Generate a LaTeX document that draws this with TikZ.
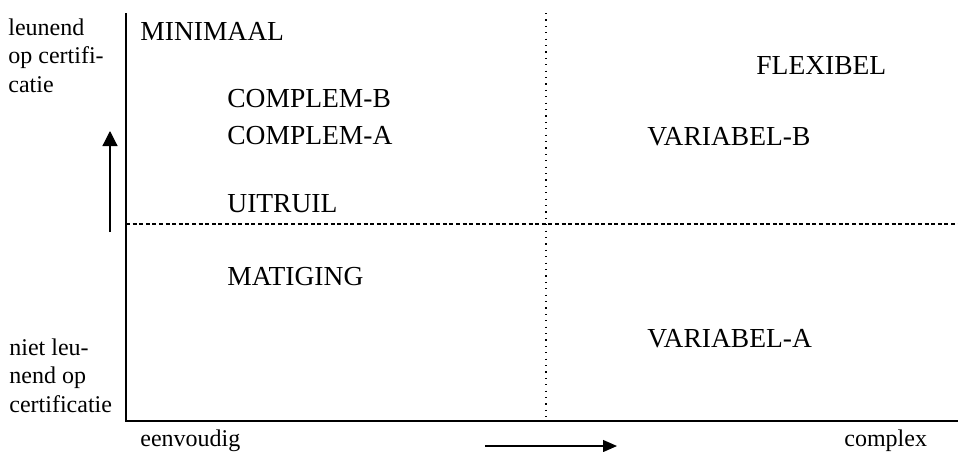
\documentclass[tikz,border=0pt]{standalone}
\usepackage{fontspec}
\setmainfont{Liberation Serif}
\usepackage{tikz}
\usetikzlibrary{arrows.meta}
\tikzstyle{kwad}=[anchor=base west,inner sep=0pt,font=\fontsize{13.75}{16}\selectfont]
\tikzstyle{as}=[anchor=base west,inner sep=0pt,align=left,font=\fontsize{12}{14.25}\selectfont]
\tikzstyle{lijn}=[line width=0.6pt]

\begin{document}
\begin{tikzpicture}[x=0.5pt,y=-0.5pt]

				\useasboundingbox (0,0) rectangle (958,451);

				% assen
				\coordinate (o) at (126,421);
				\coordinate (top) at (126,13);
				\coordinate (rechts) at (958,421);
				\draw[lijn] (top) -- (o) -- (rechts);

				\coordinate (mh1) at (126,224);
				\coordinate (mh2) at (958,224);
				\draw[lijn,dash pattern=on 2pt off 1.3pt] (mh1) -- (mh2);

				\coordinate (mv1) at (546,13);
				\coordinate (mv2) at (546,418);
				\draw[lijn,dash pattern=on 0.6pt off 2.6pt] (mv1) -- (mv2);

				% pijlen
				\coordinate (pv1) at (110,232);
				\coordinate (pv2) at (110,131);
				\draw[lijn,-{Triangle[length=7.5pt,width=7.5pt]}] (pv1) -- (pv2);

				\coordinate (ph1) at (485,446);
				\coordinate (ph2) at (617,446);
				\draw[lijn,-{Triangle[length=7pt,width=6pt]}] (ph1) -- (ph2);

				% aslabels (base = laatste regel)
				\node [as] (leun) at (8,92) {leunend\\op certifi-\\catie};
				\node [as] (nleun) at (9,412) {niet leu-\\nend op\\certificatie};
				\node [as] (eenv) at (140,446) {eenvoudig};
				\node [as] (compl) at (844,446) {complex};

				% kwadranten
				\node [kwad] (minimaal) at (140,40) {MINIMAAL};
				\node [kwad] (complemb) at (227,107) {COMPLEM-B};
				\node [kwad] (complema) at (227,144) {COMPLEM-A};
				\node [kwad] (uitruil) at (227,212) {UITRUIL};
				\node [kwad] (matiging) at (227,285) {MATIGING};
				\node [kwad] (flexibel) at (756,74) {FLEXIBEL};
				\node [kwad] (variabelb) at (647,145) {VARIABEL-B};
				\node [kwad] (variabela) at (647,347) {VARIABEL-A};

\end{tikzpicture}
\end{document}
